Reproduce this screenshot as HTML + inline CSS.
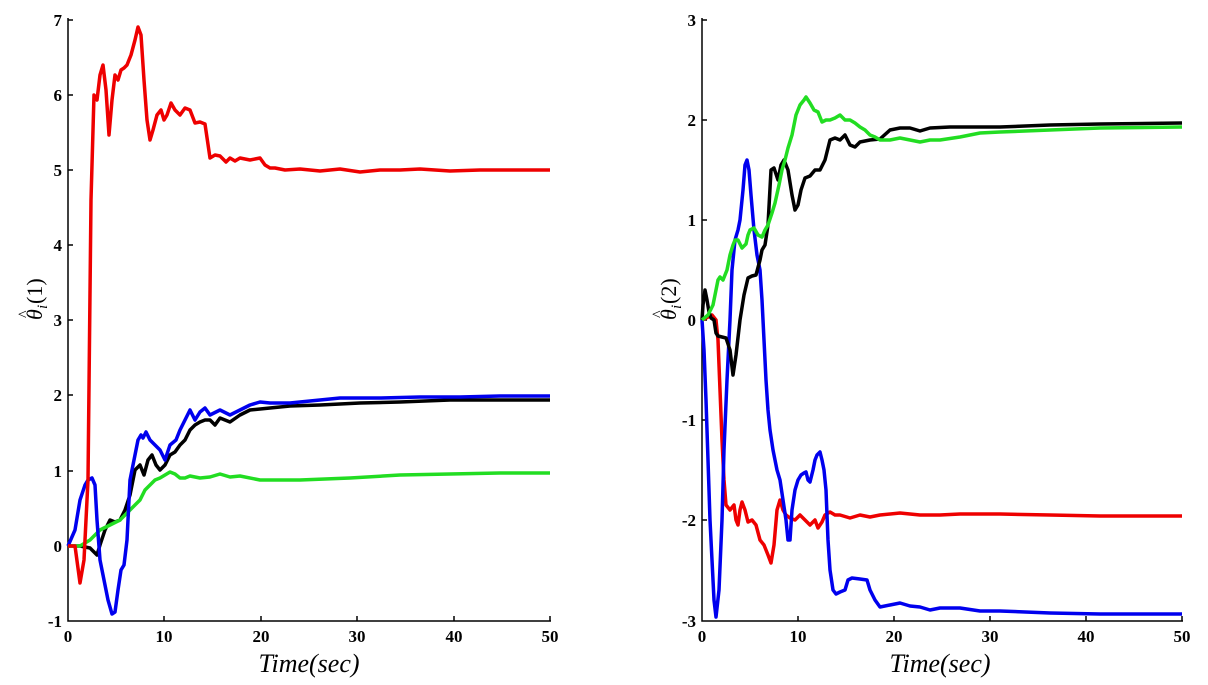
<!DOCTYPE html>
<html><head><style>body{margin:0;background:#fff}svg{display:block}</style></head><body>
<svg width="1208" height="685" viewBox="0 0 1208 685" xmlns="http://www.w3.org/2000/svg" font-family="Liberation Serif, serif">
<g stroke="#000" stroke-width="1.5" fill="none">
<path d="M68,18 V621 H551"/>
<path d="M702,18 V621 H1183"/>
<path d="M68,20h5M68,95h5M68,170h5M68,245h5M68,320h5M68,395h5M68,471h5M68,546h5M164,621v-5M261,621v-5M357,621v-5M454,621v-5M550,621v-5"/>
<path d="M702,20h5M702,120h5M702,220h5M702,320h5M702,420h5M702,520h5M798,621v-5M894,621v-5M990,621v-5M1086,621v-5M1182,621v-5"/>
</g>
<g font-size="17" text-anchor="end" font-weight="bold">
<text x="62" y="26">7</text><text x="62" y="101">6</text><text x="62" y="176">5</text><text x="62" y="251">4</text><text x="62" y="326">3</text><text x="62" y="401">2</text><text x="62" y="477">1</text><text x="62" y="552">0</text><text x="62" y="627">-1</text>
<text x="696" y="26">3</text><text x="696" y="126">2</text><text x="696" y="226">1</text><text x="696" y="326">0</text><text x="696" y="426">-1</text><text x="696" y="526">-2</text><text x="696" y="627">-3</text>
</g>
<g font-size="17" text-anchor="middle" font-weight="bold">
<text x="68" y="642">0</text><text x="164" y="642">10</text><text x="261" y="642">20</text><text x="357" y="642">30</text><text x="454" y="642">40</text><text x="550" y="642">50</text>
<text x="702" y="642">0</text><text x="798" y="642">10</text><text x="894" y="642">20</text><text x="990" y="642">30</text><text x="1086" y="642">40</text><text x="1182" y="642">50</text>
</g>
<text x="309" y="672" font-size="26" font-style="italic" text-anchor="middle">Time(sec)</text>
<text x="940" y="672" font-size="26" font-style="italic" text-anchor="middle">Time(sec)</text>
<g transform="translate(42,320) rotate(-90)" font-size="22">
<text x="0" y="0" font-style="italic">θ</text><text x="2" y="-13" font-size="16">^</text>
<text x="11" y="5" font-size="15" font-style="italic">i</text><text x="16" y="0">(1)</text>
</g>
<g transform="translate(676,320) rotate(-90)" font-size="22">
<text x="0" y="0" font-style="italic">θ</text><text x="2" y="-13" font-size="16">^</text>
<text x="11" y="5" font-size="15" font-style="italic">i</text><text x="16" y="0">(2)</text>
</g>
<g fill="none" stroke-width="3.5" stroke-linejoin="round">
<polyline stroke="#000" points="68,546 80,546 90,548 97,555 100,545 105,530 110,520 115,522 120,520 125,510 130,495 135,470 140,465 144,475 148,460 152,455 156,465 160,470 165,465 170,455 175,452 180,445 185,440 190,430 195,425 200,422 205,420 210,420 215,425 220,418 230,422 240,415 250,410 270,408 290,406 320,405 360,403 400,402 450,400 500,400 550,400"/>
<polyline stroke="#22dd22" points="68,546 80,546 90,540 100,530 110,525 120,520 130,510 140,500 145,490 150,485 155,480 160,478 165,475 170,472 175,474 180,478 185,478 190,476 200,478 210,477 220,474 230,477 240,476 260,480 300,480 350,478 400,475 450,474 500,473 550,473"/>
<polyline stroke="#0000ee" points="68,546 75,530 80,500 85,485 88,480 92,478 95,485 97,520 100,560 104,580 108,600 112,614 115,612 118,590 121,570 124,565 127,540 130,480 134,460 138,440 141,435 143,438 146,432 150,440 155,445 160,450 165,460 170,445 176,440 180,430 185,420 190,410 195,420 200,412 205,408 210,415 220,410 230,415 240,410 250,405 260,402 270,403 290,403 310,401 340,398 380,398 420,397 460,397 500,396 550,396"/>
<polyline stroke="#ee0000" points="68,546 75,546 80,583 84,560 88,480 91,200 94,95 97,100 100,75 103,65 106,90 109,135 112,100 115,75 118,80 121,70 124,68 127,65 131,55 135,40 138,27 141,35 144,80 147,120 150,140 153,130 157,115 161,110 164,120 167,115 171,103 175,110 180,115 185,108 190,110 195,123 200,122 205,124 210,158 215,155 220,156 226,162 230,158 235,161 240,158 250,160 260,158 265,165 270,168 275,168 285,170 300,169 320,171 340,169 360,172 380,170 400,170 420,169 450,171 480,170 550,170"/>
<polyline stroke="#ee0000" points="702,320 706,318 712,315 716,320 718,340 720,390 722,440 724,480 726,505 730,510 734,505 736,520 738,525 740,510 742,502 745,510 748,522 752,520 756,525 760,540 764,545 768,555 771,563 774,545 777,510 780,500 783,510 786,515 790,518 795,520 800,515 805,520 810,525 815,520 818,528 822,522 825,515 830,512 835,515 840,515 850,518 860,515 870,517 880,515 900,513 920,515 940,515 960,514 1000,514 1050,515 1100,516 1182,516"/>
<polyline stroke="#0000ee" points="702,320 704,350 706,400 708,460 710,520 712,560 714,600 716,617 719,590 722,520 724,450 727,380 730,320 732,270 735,240 738,230 740,220 743,190 745,165 747,160 749,170 751,195 754,230 757,255 760,270 762,300 764,340 766,380 768,410 770,430 773,450 777,470 780,480 783,500 786,520 788,540 790,540 792,510 795,490 798,480 801,475 804,473 806,472 808,480 810,482 813,470 815,460 817,455 820,452 822,460 824,470 826,490 828,540 830,570 833,590 836,594 840,592 845,590 848,580 852,578 860,579 867,580 870,590 875,600 880,607 890,605 900,603 910,606 920,607 930,610 940,608 960,608 980,611 1000,611 1050,613 1100,614 1182,614"/>
<polyline stroke="#000" points="702,320 703,305 705,290 707,300 709,312 711,318 714,320 716,333 718,336 722,337 726,338 730,350 733,375 736,355 740,320 744,295 748,278 752,276 756,275 760,260 762,250 765,245 768,225 771,170 774,168 778,180 781,165 784,160 788,170 792,195 795,210 798,205 801,190 805,178 810,176 815,170 820,170 825,160 830,140 835,138 840,140 845,135 850,145 855,147 860,142 870,140 880,139 890,130 900,128 910,128 920,131 930,128 950,127 980,127 1000,127 1050,125 1100,124 1182,123"/>
<polyline stroke="#22dd22" points="702,320 708,315 713,305 716,290 718,280 720,277 723,280 727,270 730,255 733,245 735,240 738,240 742,248 746,244 748,235 750,230 754,228 758,235 762,237 765,230 768,225 772,213 775,203 779,185 782,170 785,160 788,148 792,135 796,115 800,105 804,100 806,97 810,103 814,110 818,112 822,122 826,120 830,120 835,118 840,115 845,120 850,120 855,123 860,127 865,130 870,135 875,137 880,140 890,140 900,138 910,140 920,142 930,140 940,140 960,137 980,133 1000,132 1050,130 1100,128 1182,127"/>
</g>
</svg>
</body></html>
